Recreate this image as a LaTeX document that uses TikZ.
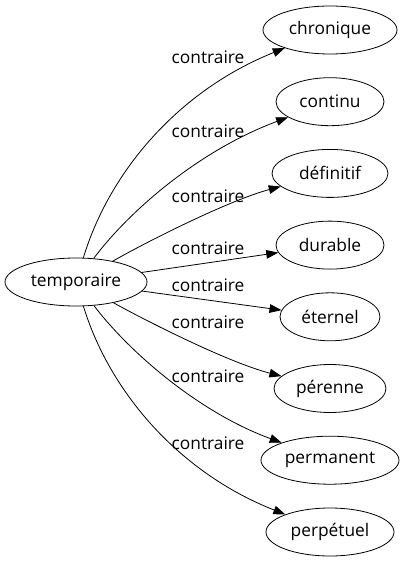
\documentclass[tikz,border=0pt]{standalone}
\usepackage{fontspec}
\setmainfont{Open Sans}
\usetikzlibrary{shapes.geometric,arrows.meta}
\begin{document}
\begin{tikzpicture}[x=0.75pt,y=-0.75pt,
  lex/.style={ellipse,draw,line width=0.6pt,inner sep=0pt,minimum height=36pt,font=\fontsize{13}{15}\selectfont},
  rel/.style={font=\fontsize{13}{15}\selectfont,inner sep=0pt},
  edge/.style={draw,line width=0.6pt,-{Triangle[length=9pt,width=6.5pt]}}]
\useasboundingbox (0,0) rectangle (404,563);
\node[lex,minimum width=106.5pt] (t) at (76,282) {temporaire};
\node[lex,minimum width=100.5pt] (n1) at (330,30) {chronique};
\node[lex,minimum width=81pt] (n2) at (330,101.7) {continu};
\node[lex,minimum width=87pt] (n3) at (330,173.4) {définitif};
\node[lex,minimum width=81pt] (n4) at (330,245.1) {durable};
\node[lex,minimum width=75pt] (n5) at (330,316.8) {éternel};
\node[lex,minimum width=84pt] (n6) at (330,388.5) {pérenne};
\node[lex,minimum width=103.5pt] (n7) at (330,460.2) {permanent};
\node[lex,minimum width=96pt] (n8) at (330,532) {perpétuel};
\path[edge] (t) .. controls (110,170) and (180,90) .. (n1);
\path[edge] (t) .. controls (130,210) and (200,150) .. (n2);
\path[edge] (t) .. controls (150,240) and (230,200) .. (n3);
\path[edge] (t) -- (n4);
\path[edge] (t) -- (n5);
\path[edge] (t) .. controls (150,323) and (230,363) .. (n6);
\path[edge] (t) .. controls (130,353) and (200,413) .. (n7);
\path[edge] (t) .. controls (110,393) and (180,473) .. (n8);
\node[rel] (l1) at (208,57) {contraire};
\node[rel] (l2) at (208,131) {contraire};
\node[rel] (l3) at (208,196) {contraire};
\node[rel] (l4) at (208,248) {contraire};
\node[rel] (l5) at (208,285) {contraire};
\node[rel] (l6) at (208,322) {contraire};
\node[rel] (l7) at (208,376) {contraire};
\node[rel] (l8) at (208,443) {contraire};
\end{tikzpicture}
\end{document}
